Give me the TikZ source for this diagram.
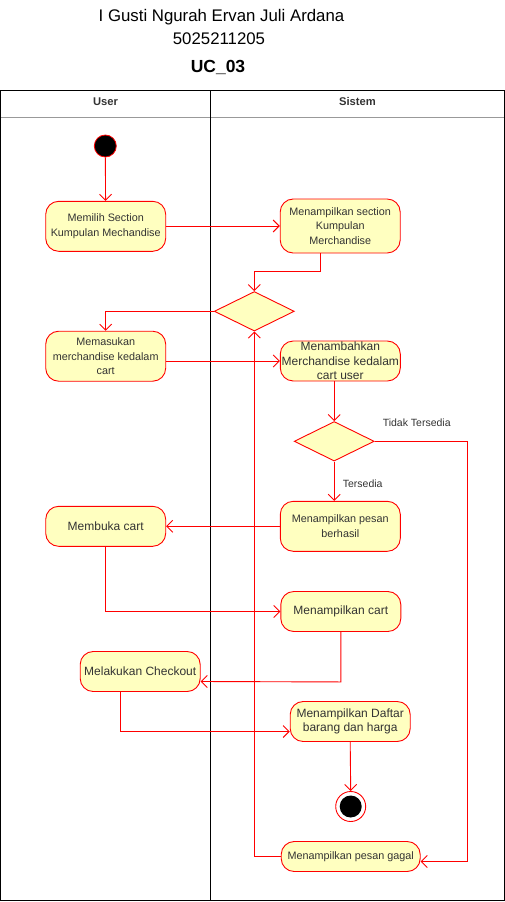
\documentclass[tikz,border=0pt]{standalone}
\usepackage{fontspec}
\setmainfont{Liberation Sans}
\usetikzlibrary{arrows.meta,shapes.geometric}
\definecolor{actfill}{HTML}{FFFFC0}
\definecolor{actline}{HTML}{FF0000}
\definecolor{txt}{HTML}{333333}
\begin{document}
\begin{tikzpicture}[x=1pt,y=-1pt,
  act/.style={draw=actline, fill=actfill, rounded corners=13pt, align=center,
    text=txt, inner sep=0pt, line width=0.9pt,
    minimum width=120pt, minimum height=40pt},
  small/.style={font=\fontsize{10.8}{14.5}\selectfont},
  big/.style={font=\fontsize{12}{14.3}\selectfont},
  dec/.style={diamond, draw=actline, fill=actfill, line width=0.9pt,
    minimum width=80pt, minimum height=39.5pt, inner sep=0pt, aspect=2},
  flow/.style={draw=actline, line width=0.9pt, -{Straight Barb[length=6pt,width=12pt]}},
  lane/.style={draw=black, line width=1pt},
  lbl/.style={font=\fontsize{10.5}{12}\selectfont, text=txt, inner sep=0pt},
  hdr/.style={font=\bfseries\fontsize{11.2}{12}\selectfont, text=txt, inner sep=0pt}
]
\useasboundingbox (0,0) rectangle (505,902);
% titles
\node[font=\fontsize{16.8}{18}\selectfont, inner sep=0pt] (t1) at (221.5,17) {I Gusti Ngurah Ervan Juli Ardana};
\node[font=\fontsize{16.8}{18}\selectfont, inner sep=0pt] (t2) at (219,38.5) {5025211205};
\node[font=\bfseries\fontsize{17.5}{18}\selectfont, inner sep=0pt] (t3) at (218,67) {UC\_03};
% swimlanes
\draw[draw=black!40, line width=0.8pt] (0.5,117) -- (504,117);
\draw[lane] (0.5,90.7) rectangle (504,900.7);
\draw[lane] (210.7,90.7) -- (210.7,900.7);
\node[hdr] (hu) at (105.5,101.7) {User};
\node[hdr] (hs) at (357.5,101.7) {Sistem};
% start
\node[circle, fill=black, draw=actline, line width=0.8pt, minimum size=22pt, inner sep=0pt] (start) at (105.3,146) {};
% activities
\node[act, small, minimum height=50pt] (memilih) at (105.7,226.3) {Memilih Section\\Kumpulan Mechandise};
\node[act, small, minimum height=54pt] (section) at (340.2,226) {Menampilkan section\\Kumpulan\\Merchandise};
\node[dec] (d1) at (254.3,311.3) {};
\node[act, small, minimum height=50pt] (masuk) at (105.7,356.2) {Memasukan\\merchandise kedalam\\cart};
\node[act, big, minimum height=40pt] (tambah) at (340.3,361) {Menambahkan\\Merchandise kedalam\\cart user};
\node[dec] (d2) at (334.2,441.3) {};
\node[act, small, minimum height=50pt] (berhasil) at (340.3,526.3) {Menampilkan pesan\\berhasil};
\node[act, big] (membuka) at (105.7,526.3) {Membuka cart};
\node[act, big] (cart) at (340.8,611.5) {Menampilkan cart};
\node[act, big] (checkout) at (140.2,671.5) {Melakukan Checkout};
\node[act, big] (daftar) at (350.2,721.5) {Menampilkan Daftar\\barang dan harga};
\node[circle, draw=actline, fill=white, line width=0.9pt, minimum size=30pt, inner sep=0pt] (end) at (350.7,806.5) {};
\node[circle, fill=black, minimum size=22pt, inner sep=0pt] (endin) at (end) {};
\node[act, small, minimum width=139pt, minimum height=30pt] (gagal) at (350.7,856.5) {Menampilkan pesan gagal};
% labels
\node[lbl] (ltidak) at (416.7,422.3) {Tidak Tersedia};
\node[lbl] (lters) at (362.7,484) {Tersedia};
% flows
\draw[flow] (start) -- (memilih);
\draw[flow] (memilih.east |- section.west) -- (section.west);
\draw[flow] ([xshift=-20pt]section.south) -- ++(0,18) -| (d1.north);
\draw[flow] (d1.west) -| (masuk.north);
\draw[flow] (masuk.east |- tambah.west) -- (tambah.west);
\draw[flow] (d2.north |- tambah.south) -- (d2.north);
\draw[flow] (d2.south) -- (d2.south |- berhasil.north);
\draw[flow] (d2.east) -- ++(93,0) |- ([yshift=-5pt]gagal.east);
\draw[flow] (berhasil.west) -- (berhasil.west -| membuka.east);
\draw[flow] (membuka.south) |- (cart.west);
\draw[flow] (cart.south) -- ++(0,50) -- ([yshift=-10pt]checkout.east);
\draw[flow] ([xshift=-20pt]checkout.south) |- ([yshift=-10pt]daftar.west);
\draw[flow] (daftar.south) -- (end.north);
\draw[flow] (gagal.west) -| (d1.south);
\end{tikzpicture}
\end{document}
